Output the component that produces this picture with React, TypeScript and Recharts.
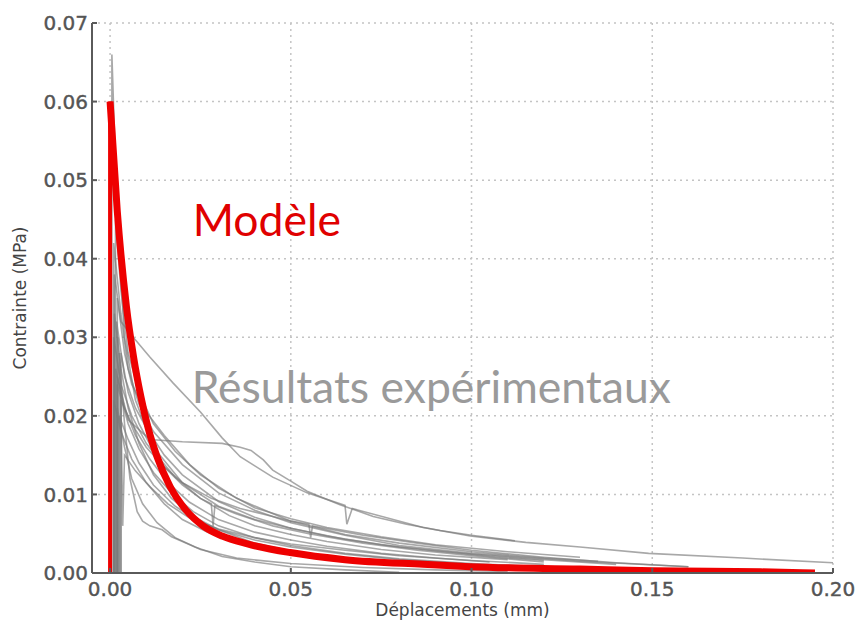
import React from 'react';
import { LineChart, Line, XAxis, YAxis, CartesianGrid, ReferenceDot, Label } from 'recharts';

type Pt = [number, number];

const xTicks = [0, 0.05, 0.1, 0.15, 0.2];
const yTicks = [0, 0.01, 0.02, 0.03, 0.04, 0.05, 0.06, 0.07];

// Model curve (red)
const modelRise: Pt[] = [[0, 0], [0, 0.06]];
const modelDecay: Pt[] = [
  [0, 0.06], [0.002, 0.046], [0.0045, 0.034], [0.0065, 0.0275], [0.0085, 0.0225], [0.0105, 0.0185],
  [0.013, 0.0148], [0.0166, 0.0110], [0.021, 0.0080], [0.0257, 0.0060], [0.031, 0.0047],
  [0.038, 0.0037], [0.0498, 0.0026], [0.065, 0.0017], [0.0866, 0.0011], [0.0996, 0.0008],
  [0.13, 0.0005], [0.15, 0.0003], [0.18, 0.00015], [0.195, 0.0],
];

// Experimental curves (grey)
const exp1: Pt[] = [[0.0012, 0], [0.0012, 0.038], [0.003, 0.032], [0.0064, 0.03], [0.011, 0.0275], [0.0174, 0.0242], [0.025, 0.0205], [0.031, 0.0172], [0.036, 0.0148], [0.045, 0.0122], [0.0545, 0.0102], [0.065, 0.0086], [0.0655, 0.0062], [0.067, 0.0082], [0.0866, 0.0058], [0.0996, 0.0047], [0.115, 0.0039], [0.13, 0.0033], [0.149, 0.0025], [0.175, 0.0019], [0.2, 0.0013]];
const exp2: Pt[] = [[0.002, 0], [0.002, 0.025], [0.005, 0.0195], [0.011, 0.017], [0.02, 0.0167], [0.031, 0.0165], [0.036, 0.016], [0.039, 0.0156], [0.0424, 0.0144], [0.045, 0.0131], [0.05, 0.0117], [0.0545, 0.0104], [0.0636, 0.0087], [0.0728, 0.0072], [0.082, 0.0062], [0.0913, 0.0054], [0.1, 0.0048], [0.112, 0.0041]];
const exp3: Pt[] = [[0.0005, 0], [0.0005, 0.066], [0.002, 0.045], [0.004, 0.03], [0.007, 0.022], [0.012, 0.016], [0.02, 0.0115], [0.03, 0.0085], [0.04, 0.0068], [0.05, 0.0057], [0.065, 0.0043], [0.08, 0.0033], [0.1, 0.0024], [0.12, 0.0017], [0.14, 0.0011]];
const exp4: Pt[] = [[0.0015, 0], [0.0015, 0.045], [0.003, 0.036], [0.005, 0.028], [0.008, 0.023], [0.012, 0.019], [0.018, 0.0155], [0.025, 0.0125], [0.035, 0.0095], [0.05, 0.0066], [0.065, 0.0049], [0.08, 0.0038], [0.1, 0.0027], [0.12, 0.0019], [0.135, 0.0015]];
const exp5: Pt[] = [[0.001, 0], [0.001, 0.042], [0.003, 0.033], [0.005, 0.026], [0.008, 0.0215], [0.012, 0.018], [0.02, 0.0138], [0.03, 0.0102], [0.04, 0.008], [0.05, 0.0064], [0.065, 0.0048], [0.08, 0.0035], [0.1, 0.0025], [0.13, 0.0015], [0.16, 0.0008]];
const exp6: Pt[] = [[0.002, 0], [0.002, 0.035], [0.004, 0.028], [0.006, 0.024], [0.01, 0.0205], [0.015, 0.0175], [0.022, 0.0138], [0.03, 0.0108], [0.04, 0.0083], [0.05, 0.0069], [0.06, 0.0058], [0.075, 0.0046], [0.09, 0.0036], [0.11, 0.0027], [0.13, 0.002]];
const exp7: Pt[] = [[0.0018, 0], [0.0018, 0.032], [0.004, 0.025], [0.007, 0.021], [0.01, 0.0185], [0.015, 0.015], [0.02, 0.0125], [0.03, 0.0091], [0.04, 0.0071], [0.05, 0.0057], [0.06, 0.0047], [0.075, 0.0036], [0.09, 0.0028], [0.105, 0.0021], [0.12, 0.0016]];
const exp8: Pt[] = [[0.001, 0], [0.001, 0.03], [0.003, 0.024], [0.006, 0.02], [0.01, 0.0165], [0.015, 0.0135], [0.02, 0.0112], [0.025, 0.0095], [0.028, 0.0088], [0.0285, 0.006], [0.029, 0.0086], [0.035, 0.0075], [0.045, 0.006], [0.055, 0.005], [0.07, 0.0038], [0.085, 0.0029], [0.1, 0.0022], [0.12, 0.0014]];
const exp9: Pt[] = [[0.003, 0], [0.003, 0.028], [0.005, 0.023], [0.008, 0.019], [0.012, 0.0155], [0.018, 0.0122], [0.025, 0.0095], [0.033, 0.0073], [0.04, 0.006], [0.05, 0.0049], [0.06, 0.004], [0.075, 0.003], [0.09, 0.0023], [0.11, 0.0017]];
const exp10: Pt[] = [[0.0015, 0], [0.0015, 0.026], [0.004, 0.021], [0.007, 0.0175], [0.011, 0.0145], [0.016, 0.0115], [0.022, 0.009], [0.03, 0.0068], [0.04, 0.0052], [0.05, 0.0042], [0.06, 0.0034], [0.075, 0.0025], [0.09, 0.0019], [0.105, 0.0014]];
const exp11: Pt[] = [[0.002, 0], [0.002, 0.024], [0.005, 0.019], [0.008, 0.0158], [0.012, 0.0128], [0.017, 0.0102], [0.023, 0.0078], [0.03, 0.006], [0.04, 0.0045], [0.05, 0.0035], [0.065, 0.0025], [0.08, 0.0018], [0.1, 0.0012], [0.12, 0.0008]];
const exp12: Pt[] = [[0.001, 0], [0.001, 0.022], [0.003, 0.018], [0.006, 0.0145], [0.01, 0.0115], [0.015, 0.0088], [0.02, 0.0068], [0.027, 0.0052], [0.035, 0.004], [0.045, 0.003], [0.06, 0.002], [0.08, 0.0012], [0.1, 0.0007], [0.12, 0.0004]];
const exp13: Pt[] = [[0.0025, 0], [0.0025, 0.02], [0.005, 0.017], [0.008, 0.014], [0.012, 0.0112], [0.018, 0.0085], [0.024, 0.0067], [0.03, 0.0055], [0.04, 0.0042], [0.05, 0.0033], [0.065, 0.0024], [0.08, 0.0017], [0.1, 0.0011], [0.13, 0.0006], [0.16, 0.0004]];
const exp14: Pt[] = [[0.0025, 0], [0.0025, 0.028], [0.004, 0.019], [0.0055, 0.012], [0.0075, 0.0078], [0.009, 0.0066], [0.011, 0.006], [0.0144, 0.0055], [0.017, 0.0046], [0.0235, 0.0033], [0.031, 0.0021], [0.04, 0.0014], [0.05, 0.0008], [0.065, 0.0004], [0.08, 0.0001]];
const exp15: Pt[] = [[0.0012, 0], [0.0012, 0.033], [0.003, 0.026], [0.005, 0.021], [0.008, 0.0165], [0.012, 0.0125], [0.017, 0.0095], [0.023, 0.0072], [0.03, 0.0055], [0.04, 0.0038], [0.05, 0.0028], [0.065, 0.0018], [0.08, 0.0012], [0.1, 0.0007], [0.13, 0.0004]];
const exp16: Pt[] = [[0.002, 0], [0.002, 0.021], [0.004, 0.016], [0.006, 0.012], [0.009, 0.0088], [0.013, 0.0064], [0.018, 0.0045], [0.025, 0.003], [0.035, 0.0019], [0.05, 0.0012], [0.07, 0.0007], [0.09, 0.0004], [0.11, 0.0002]];
const exp17: Pt[] = [[0.003, 0], [0.003, 0.022], [0.006, 0.019], [0.01, 0.016], [0.015, 0.0135], [0.02, 0.0115], [0.028, 0.0095], [0.036, 0.0082], [0.045, 0.0072], [0.05, 0.0066], [0.055, 0.0062], [0.0555, 0.0045], [0.056, 0.006], [0.07, 0.0048], [0.085, 0.0038], [0.1, 0.0029], [0.12, 0.002], [0.14, 0.0013], [0.16, 0.0008]];
const exp18: Pt[] = [[0.0022, 0], [0.0022, 0.03], [0.003, 0.022], [0.0035, 0.006], [0.004, 0.015], [0.007, 0.013], [0.011, 0.011], [0.016, 0.0088], [0.022, 0.007], [0.03, 0.0056], [0.04, 0.0045], [0.05, 0.0037], [0.065, 0.0029], [0.08, 0.0022], [0.1, 0.0016], [0.12, 0.0011]];

const experiments: Pt[][] = [exp1, exp2, exp3, exp4, exp5, exp6, exp7, exp8, exp9, exp10, exp11, exp12, exp13, exp14, exp15, exp16, exp17, exp18];

const toRows = (pts: Pt[]) => pts.map(([x, y]) => ({ x, y }));

const tickStyle = { fontFamily: 'DejaVu Sans', fontSize: 20, fill: '#555', stroke: '#555', strokeWidth: 0.4 };
const fmt = (v: number) => v.toFixed(2);

const annot = (text: string, color: string) => (props: any) => {
  const vb = props.viewBox || {};
  return (
    <text x={vb.x} y={vb.y} fill={color} fontFamily="Lato" fontSize={44.5} textAnchor="start">
      {text}
    </text>
  );
};

export default function App() {
  return (
    <div style={{ position: 'absolute', left: 0, top: 0, background: '#fff' }}>
      <LineChart width={856} height={630} margin={{ top: 23, right: 23, bottom: 0, left: 0 }}>
        <CartesianGrid stroke="#c4c4c4" strokeDasharray="2 4" strokeWidth={1.5} />
        <XAxis
          type="number"
          dataKey="x"
          domain={[-0.005, 0.2]}
          ticks={xTicks}
          tickFormatter={fmt}
          allowDataOverflow
          height={57}
          stroke="#5a5a5a"
          strokeWidth={2}
          tickSize={-5}
          tickMargin={14}
          tick={tickStyle}
        >
          <Label value="Déplacements (mm)" position="insideBottom" offset={14} style={{ fontFamily: 'DejaVu Sans', fontSize: 17, fill: '#444' }} />
        </XAxis>
        <XAxis
          xAxisId="top"
          orientation="top"
          type="number"
          dataKey="x"
          domain={[-0.005, 0.2]}
          ticks={xTicks}
          allowDataOverflow
          height={0}
          stroke="#5a5a5a"
          strokeWidth={2}
          tickSize={-5}
          tick={false}
        />
        <YAxis
          type="number"
          domain={[0, 0.07]}
          ticks={yTicks}
          tickFormatter={fmt}
          allowDataOverflow
          width={92}
          stroke="#5a5a5a"
          strokeWidth={2}
          tickSize={-5}
          tickMargin={9}
          tick={tickStyle}
        >
          <Label value="Contrainte (MPa)" angle={-90} position="insideLeft" offset={20} style={{ fontFamily: 'DejaVu Sans', fontSize: 17, fill: '#444', textAnchor: 'middle' }} />
        </YAxis>
        <YAxis
          yAxisId="right"
          orientation="right"
          type="number"
          domain={[0, 0.07]}
          ticks={yTicks}
          allowDataOverflow
          width={0}
          stroke="#5a5a5a"
          strokeWidth={2}
          tickSize={-5}
          tick={false}
        />
        {experiments.map((pts, i) => (
          <Line
            key={'exp' + i}
            data={toRows(pts)}
            dataKey="y"
            type="linear"
            stroke="#7a7a7a"
            strokeOpacity={0.65}
            strokeWidth={1.6}
            dot={false}
            activeDot={false}
            isAnimationActive={false}
          />
        ))}
        <Line data={toRows(modelRise)} dataKey="y" type="linear" stroke="#ee0000" strokeWidth={4} dot={false} activeDot={false} isAnimationActive={false} />
        <Line data={toRows(modelDecay)} dataKey="y" type="monotone" stroke="#ee0000" strokeWidth={7} dot={false} activeDot={false} isAnimationActive={false} />
        <ReferenceDot x={0.023} y={0.0428} r={0.5} fill="none" stroke="none">
          <Label content={annot('Modèle', '#e00000')} />
        </ReferenceDot>
        <ReferenceDot x={0.0227} y={0.0216} r={0.5} fill="none" stroke="none">
          <Label content={annot('Résultats expérimentaux', '#9a9a9a')} />
        </ReferenceDot>
      </LineChart>
    </div>
  );
}
